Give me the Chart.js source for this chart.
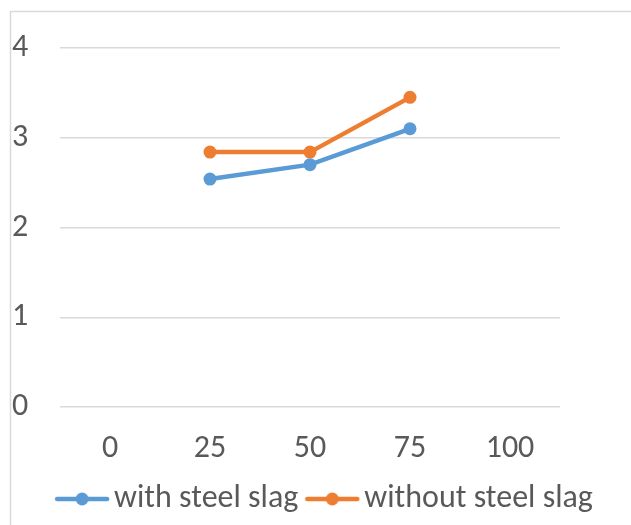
<!DOCTYPE html>
<html>
<head>
<meta charset="utf-8">
<script src="https://cdn.jsdelivr.net/npm/chart.js@4/dist/chart.umd.min.js"></script>
<style>
  html, body { margin: 0; padding: 0; background: #ffffff; }
  #wrap { position: relative; width: 631px; height: 525px; }
</style>
</head>
<body>
<div id="wrap"><canvas id="chart"></canvas></div>
<script>
// Slag content categories and measured values
const categories = ['0', '25', '50', '75', '100'];
const withSlag = [null, 2.54, 2.70, 3.10, null];
const withoutSlag = [null, 2.84, 2.84, 3.45, null];
const yTicks = [0, 1, 2, 3, 4];

const BLUE = '#5B9BD5';
const ORANGE = '#ED7D31';
const TEXT = '#595959';
const GRID = '#D9D9D9';
const FONT = 'Calibri, Carlito, Lato, sans-serif';
const FONT_SIZE = 32;

// Legend marker: a short line with a dot in the middle
function legendMarker(color) {
  const c = document.createElement('canvas');
  c.width = 56; c.height = 16;
  const g = c.getContext('2d');
  g.strokeStyle = color; g.lineWidth = 4.5; g.lineCap = 'round';
  g.beginPath(); g.moveTo(3, 8); g.lineTo(53, 8); g.stroke();
  g.fillStyle = color;
  g.beginPath(); g.arc(28, 8, 6.5, 0, Math.PI * 2); g.fill();
  return c;
}
const markers = [legendMarker(BLUE), legendMarker(ORANGE)];

// Light frame around the chart
const framePlugin = {
  id: 'frame',
  beforeDraw(chart) {
    const ctx = chart.ctx;
    ctx.save();
    ctx.strokeStyle = GRID;
    ctx.lineWidth = 1.5;
    ctx.strokeRect(10.5, 11.5, 800, 800);
    ctx.restore();
  }
};

// Nudge the legend row a little to the right of the plot centre
const legendShift = {
  id: 'legendShift',
  afterLayout(chart) {
    if (chart.legend) {
      chart.legend.left += 8;
      chart.legend.right += 8;
    }
  }
};

new Chart(document.getElementById('chart'), {
  type: 'line',
  data: {
    labels: categories,
    datasets: [
      {
        label: 'with steel slag',
        data: withSlag,
        borderColor: BLUE,
        backgroundColor: BLUE,
        borderWidth: 4.5,
        pointRadius: 6.5,
        pointBorderWidth: 0,
        pointHoverRadius: 6.5,
        tension: 0
      },
      {
        label: 'without steel slag',
        data: withoutSlag,
        borderColor: ORANGE,
        backgroundColor: ORANGE,
        borderWidth: 4.5,
        pointRadius: 6.5,
        pointBorderWidth: 0,
        pointHoverRadius: 6.5,
        tension: 0
      }
    ]
  },
  options: {
    responsive: true,
    maintainAspectRatio: false,
    animation: false,
    layout: { padding: { left: 12, right: 0, top: 48, bottom: 0 } },
    plugins: {
      tooltip: { enabled: false },
      legend: {
        position: 'bottom',
        labels: {
          usePointStyle: true,
          pointStyleWidth: 32,
          padding: 18,
          color: TEXT,
          font: { family: FONT, size: FONT_SIZE },
          generateLabels(chart) {
            return chart.data.datasets.map((ds, i) => ({
              text: ds.label,
              fillStyle: ds.borderColor,
              strokeStyle: ds.borderColor,
              lineWidth: 0,
              pointStyle: markers[i],
              fontColor: TEXT,
              hidden: false,
              datasetIndex: i
            }));
          }
        }
      }
    },
    scales: {
      x: {
        offset: true,
        grid: { display: false, drawTicks: false },
        border: { display: false },
        ticks: { color: TEXT, font: { family: FONT, size: FONT_SIZE }, padding: 23 },
        afterFit(scale) { scale.height = 58; }
      },
      y: {
        min: 0,
        max: 4,
        afterBuildTicks(scale) { scale.ticks = yTicks.map(v => ({ value: v })); },
        grid: { color: GRID, lineWidth: 1.5, drawTicks: false },
        border: { display: false },
        ticks: { color: TEXT, font: { family: FONT, size: FONT_SIZE }, crossAlign: 'far', padding: 0 },
        afterFit(scale) { scale.width = 48; }
      },
      yRight: {
        position: 'right',
        display: true,
        grid: { display: false, drawTicks: false },
        border: { display: false },
        ticks: { display: false },
        afterFit(scale) { scale.width = 71; }
      }
    }
  },
  plugins: [framePlugin, legendShift]
});
</script>
</body>
</html>
